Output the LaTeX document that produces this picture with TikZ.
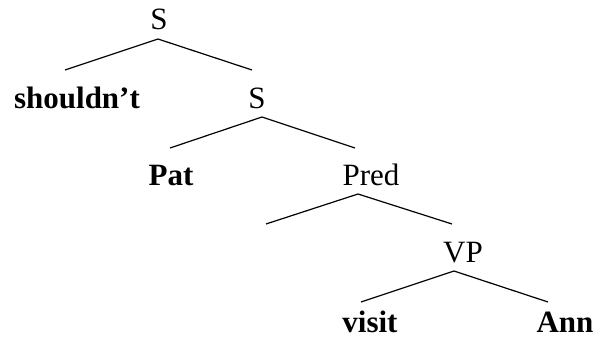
\documentclass[tikz,border=0pt]{standalone}
\usepackage{fontspec}
\setmainfont{Liberation Serif}
\begin{document}
\begin{tikzpicture}[x=1pt,y=-1pt,
  lbl/.style={anchor=base,inner sep=0pt,font=\fontsize{31}{31}\selectfont},
  word/.style={lbl,font=\fontsize{31}{31}\selectfont\bfseries},
  branch/.style={line width=1.2pt}]
\useasboundingbox (0,0) rectangle (596,345);
\node[lbl] (s1) at (159,30) {S};
\node[word] (shouldnt) at (77,108) {shouldn’t};
\node[lbl] (s2) at (257,108) {S};
\node[word] (pat) at (171,185) {Pat};
\node[lbl] (pred) at (371,185) {Pred};
\node[lbl] (vp) at (463,262) {VP};
\node[word] (visit) at (370,332) {visit};
\node[word] (ann) at (565,332) {Ann};
% branch points
\coordinate (a1) at (158,39);
\coordinate (l1) at (65,70);
\coordinate (r1) at (252,70);
\coordinate (a2) at (262,117);
\coordinate (l2) at (170,148);
\coordinate (r2) at (355,148);
\coordinate (a3) at (358,194);
\coordinate (l3) at (266,224);
\coordinate (r3) at (452,224);
\coordinate (a4) at (454,271);
\coordinate (l4) at (361,302);
\coordinate (r4) at (548,302);
\draw[branch] (l1) -- (a1) -- (r1);
\draw[branch] (l2) -- (a2) -- (r2);
\draw[branch] (l3) -- (a3) -- (r3);
\draw[branch] (l4) -- (a4) -- (r4);
\end{tikzpicture}
\end{document}
